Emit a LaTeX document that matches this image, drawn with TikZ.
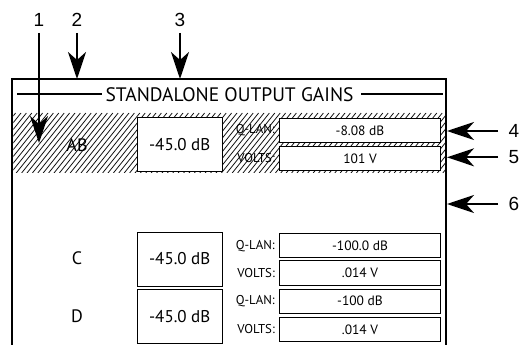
\documentclass[tikz,border=0pt]{standalone}
\usepackage{fontspec}
\setmainfont{PT Sans}
\newfontfamily\numfont{Liberation Sans}
\usetikzlibrary{arrows.meta}
\tikzset{
  frameline/.style={line width=2pt},
  bigbox/.style={draw, line width=1pt, fill=white, minimum width=84.7pt, minimum height=54pt, inner sep=0pt, font=\fontsize{17}{17}\selectfont},
  smallbox/.style={draw, line width=1pt, fill=white, minimum width=161.4pt, minimum height=24.4pt, inner sep=0pt, font=\fontsize{13.5}{14}\selectfont},
  smalllabel/.style={anchor=east, inner sep=0pt, font=\fontsize{12.8}{13}\selectfont},
  chlabel/.style={inner sep=0pt, font=\fontsize{18}{18}\selectfont},
  numlabel/.style={inner sep=0pt, font=\numfont\fontsize{19}{19}\selectfont},
  callout/.style={line width=2.4pt, -{Stealth[length=27pt,width=18pt,inset=8pt]}},
  hatchline/.style={line width=0.75pt}
}
\begin{document}
\begin{tikzpicture}[x=1pt,y=-1pt]
\useasboundingbox (0,0) rectangle (523,345);
% hatched band
\begin{scope}
\clip (13.3,113) rectangle (445,173);
\foreach \i in {-20,...,100} {
  \draw[hatchline] ({\i*5.4},173) -- ({\i*5.4+48},113);
}
\end{scope}
% frame
\draw[frameline] (12.3,345) -- (12.3,79) -- (446,79) -- (446,345);
% title
\node[inner sep=0pt, font=\fontsize{19.5}{20}\selectfont] (title) at (229.5,95) {STANDALONE OUTPUT GAINS};
\coordinate (tl1) at (17,94);
\coordinate (tl2) at (102,94);
\coordinate (tr1) at (361,94);
\coordinate (tr2) at (443,94);
\draw[frameline] (tl1) -- (tl2);
\draw[frameline] (tr1) -- (tr2);
% row AB
\node[chlabel] (labAB) at (77,145) {AB};
\node[bigbox] (valAB) at (179.7,144.5) {-45.0 dB};
\node[smallbox] (qAB) at (360,130.5) {-8.08 dB};
\node[smallbox] (vAB) at (360,158.5) {101 V};
\node[smalllabel] (qlAB) at (275,130.5) {Q-LAN:};
\node[smalllabel] (vlAB) at (275,158.5) {VOLTS:};
% row C
\node[chlabel] (labC) at (77,258.5) {C};
\node[bigbox] (valC) at (179.7,259) {-45.0 dB};
\node[smallbox] (qC) at (360,245.3) {-100.0 dB};
\node[smallbox] (vC) at (360,272.9) {.014 V};
\node[smalllabel] (qlC) at (275,246.5) {Q-LAN:};
\node[smalllabel] (vlC) at (275,273.3) {VOLTS:};
% row D
\node[chlabel] (labD) at (77,316) {D};
\node[bigbox] (valD) at (179.7,316.3) {-45.0 dB};
\node[smallbox] (qD) at (360,301.2) {-100 dB};
\node[smallbox] (vD) at (360,329.5) {.014 V};
\node[smalllabel] (qlD) at (275,301.5) {Q-LAN:};
\node[smalllabel] (vlD) at (275,329) {VOLTS:};
% callouts
\node[numlabel] (n1) at (39,20) {1};
\node[numlabel] (n2) at (77,20) {2};
\node[numlabel] (n3) at (180,20) {3};
\node[numlabel] (n4) at (514,131) {4};
\node[numlabel] (n5) at (514,157.3) {5};
\node[numlabel] (n6) at (514,204) {6};
\coordinate (s1) at (39,33); \coordinate (t1) at (39,143);
\coordinate (s2) at (77,33); \coordinate (t2) at (77,79);
\coordinate (s3) at (180,33); \coordinate (t3) at (180,79);
\coordinate (s4) at (498,131); \coordinate (t4) at (447,131);
\coordinate (s5) at (498,157.3); \coordinate (t5) at (447,157.3);
\coordinate (s6) at (498,204); \coordinate (t6) at (447,204);
\draw[callout] (s1) -- (t1);
\draw[callout] (s2) -- (t2);
\draw[callout] (s3) -- (t3);
\draw[callout] (s4) -- (t4);
\draw[callout] (s5) -- (t5);
\draw[callout] (s6) -- (t6);
\end{tikzpicture}
\end{document}
